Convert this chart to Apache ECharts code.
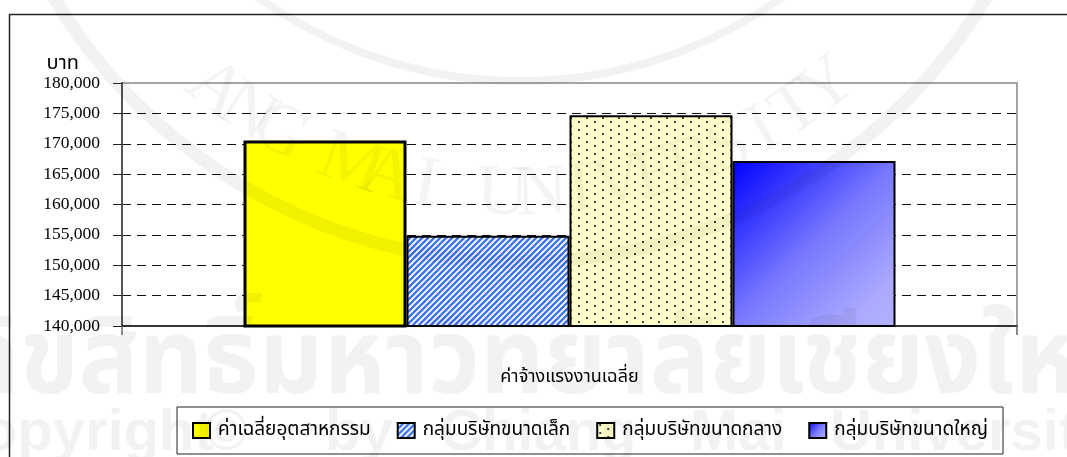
<!DOCTYPE html>
<html><head><meta charset="utf-8">
<style>html,body{margin:0;padding:0;background:#fff}#c{width:1067px;height:457px}</style>
<script src="https://cdn.jsdelivr.net/npm/echarts@6/dist/echarts.min.js"></script>
</head><body><div id="c"></div>
<script>
const categories = ['ค่าจ้างแรงงานเฉลี่ย'];
const seriesNames = ['ค่าเฉลี่ยอุตสาหกรรม','กลุ่มบริษัทขนาดเล็ก','กลุ่มบริษัทขนาดกลาง','กลุ่มบริษัทขนาดใหญ่'];
const industryAvg = [170550];
const smallFirms = [154850];
const mediumFirms = [174700];
const largeFirms = [167150];
const yUnit = 'บาท';
const FONT = '"Liberation Serif","Noto Sans Thai","Noto Serif Thai",serif';

function stripes(){
  const c=document.createElement('canvas');c.width=6;c.height=6;const g=c.getContext('2d');
  g.fillStyle='#fff';g.fillRect(0,0,6,6);
  g.strokeStyle='#3f74ee';g.lineWidth=2.4;
  [[-3,3,3,-3],[0,6,6,0],[3,9,9,3]].forEach(p=>{g.beginPath();g.moveTo(p[0],p[1]);g.lineTo(p[2],p[3]);g.stroke();});
  return c;
}
function dots(){
  const c=document.createElement('canvas');c.width=16;c.height=8;const g=c.getContext('2d');
  g.fillStyle='#ffffcc';g.fillRect(0,0,16,8);
  g.fillStyle='#444';
  [[2,1],[10,5]].forEach(p=>g.fillRect(p[0],p[1],2,2));
  return c;
}
const fills=[
  '#ffff00',
  {image:stripes(),repeat:'repeat'},
  {image:dots(),repeat:'repeat'},
  new echarts.graphic.LinearGradient(0,0,1,1,[{offset:0,color:'#0000ff'},{offset:0.5,color:'#7878ff'},{offset:0.85,color:'#aaaaff'},{offset:1,color:'#b2b2ff'}])
];
const widths=[3,2,2,2];
const values=[industryAvg,smallFirms,mediumFirms,largeFirms];

const wm='rgba(0,0,0,0.05)';
const wmGraphics=[
  {type:'circle',silent:true,z:50,shape:{cx:520,cy:-281,r:543},style:{fill:'none',stroke:wm,lineWidth:13}},
  {type:'circle',silent:true,z:50,shape:{cx:520,cy:-371,r:452},style:{fill:'none',stroke:wm,lineWidth:8}},
  {type:'text',silent:true,z:50,x:-40,y:313,scaleX:0.95,scaleY:1,style:{text:'ลิขสิทธิ์มหาวิทยาลัยเชียงใหม่',font:'bold 105px '+FONT,fill:wm}}
];
[['Copyright',-60],['©',205],['by',325],['Chiang',440],['Mai',690],['University',830]].forEach(w=>{
  wmGraphics.push({type:'text',silent:true,z:50,x:w[1],y:405,style:{text:w[0],font:'bold 58px "Liberation Sans",sans-serif',fill:wm}});
});
'ANG MAI UNIVERSITY'.split('').forEach((ch,i)=>{
  const a=(38-i*4.5)*Math.PI/180;
  const R=495;
  wmGraphics.push({type:'text',silent:true,z:50,x:520-R*Math.sin(a),y:-300+R*Math.cos(a),rotation:-a,
    style:{text:ch,font:'72px "Liberation Serif",serif',fill:'rgba(0,0,0,0.045)',align:'center',verticalAlign:'middle'}});
});

const chart=echarts.init(document.getElementById('c'),null,{renderer:'canvas'});
chart.setOption({
  animation:false,
  backgroundColor:'#fff',
  graphic:[{type:'rect',silent:true,z:-1,shape:{x:9.5,y:14.5,width:1080,height:460},style:{fill:'none',stroke:'#222',lineWidth:1.5}}].concat(wmGraphics),
  grid:{left:122,top:83,width:895,height:243,show:true,borderColor:'#888',borderWidth:1.5,containLabel:false},
  legend:{left:177,top:407,padding:[14,15,14,15],itemGap:26,itemWidth:17,itemHeight:15,icon:'rect',
    backgroundColor:'#fff',borderColor:'#222',borderWidth:1,
    textStyle:{fontFamily:FONT,fontSize:19,color:'#000',padding:[2,0,0,3]},
    data:seriesNames},
  xAxis:{type:'category',data:categories,
    axisLine:{lineStyle:{color:'#111',width:1.5}},
    axisTick:{show:true,length:9,lineStyle:{color:'#666',width:1.5}},
    axisLabel:{fontFamily:FONT,fontSize:18,color:'#000',margin:42}},
  yAxis:{type:'value',min:140000,max:180000,interval:5000,
    name:yUnit,nameLocation:'end',nameGap:8,
    nameTextStyle:{fontFamily:FONT,fontSize:20,color:'#000',align:'right',padding:[0,43,0,0]},
    axisLine:{show:true,lineStyle:{color:'#555',width:2}},
    axisTick:{show:true,length:9,lineStyle:{color:'#222',width:1}},
    axisLabel:{fontFamily:FONT,fontSize:17.5,color:'#000',margin:22,padding:[3,0,0,0],
      formatter:v=>v.toLocaleString('en-US')},
    splitLine:{show:true,showMinLine:false,showMaxLine:false,lineStyle:{color:'#111',type:[9,6],width:1}}},
  series:seriesNames.map((n,i)=>({
    name:n,type:'bar',data:values[i],barWidth:163,barGap:0,
    itemStyle:{color:fills[i],borderColor:'#000',borderWidth:widths[i]}
  }))
});
</script></body></html>
